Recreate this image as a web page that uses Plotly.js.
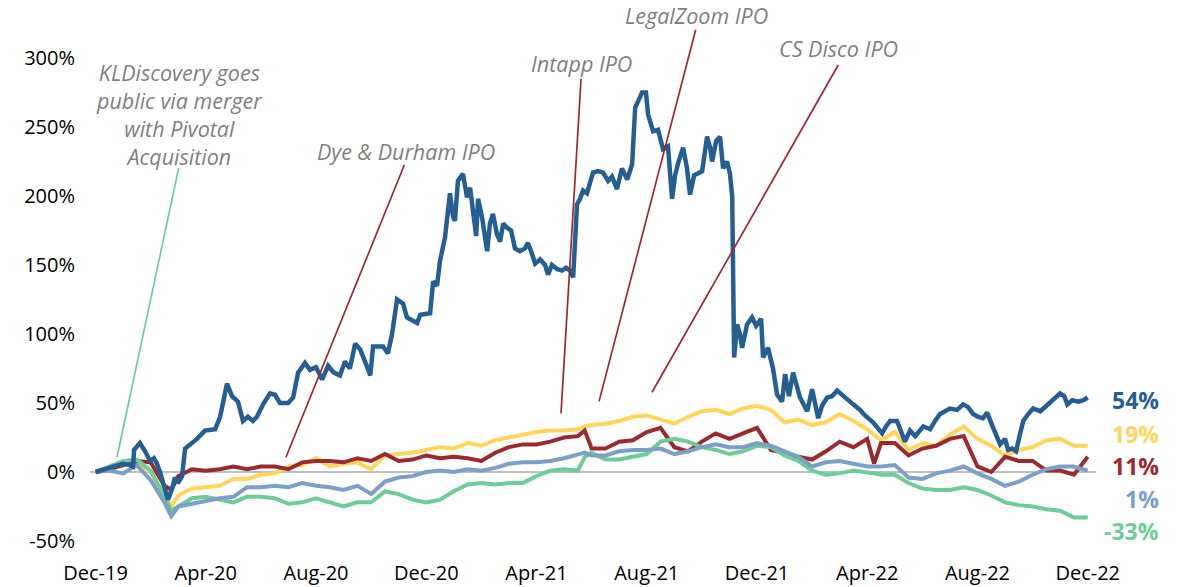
<!DOCTYPE html>
<html>
<head>
<meta charset="utf-8">
<script src="https://cdn.plot.ly/plotly-3.0.1.min.js"></script>
<style>html,body{margin:0;padding:0;background:#fff;}</style>
</head>
<body>
<div id="chart" style="width:1190px;height:587px;"></div>
<script>
// x positions in months after Dec-19 (0 = Dec-19, 36 = Dec-22)
const tickMonths = [0, 4, 8, 12, 16, 20, 24, 28, 32, 36];
const tickLabels = ["Dec-19", "Apr-20", "Aug-20", "Dec-20", "Apr-21", "Aug-21", "Dec-21", "Apr-22", "Aug-22", "Dec-22"];
const yTickValues = [-50, 0, 50, 100, 150, 200, 250, 300];
const yTickLabels = ["-50%", "0%", "50%", "100%", "150%", "200%", "250%", "300%"];

const months = [0,0.5,1,1.5,2,2.5,2.75,3,3.5,4,4.5,5,5.5,6,6.5,7,7.5,8,8.5,9,9.5,10,10.5,11,11.5,12,12.5,13,13.5,14,14.5,15,15.5,16,16.5,17,17.5,17.75,18,18.5,19,19.5,20,20.5,21,21.5,22,22.5,23,23.5,24,24.5,25,25.5,26,26.5,27,27.5,28,28.25,28.5,29,29.5,30,30.5,31,31.5,32,32.5,33,33.5,34,34.5,35,35.5,36];

const yellowSeries = [0,3,6,7,0,-16,-25,-17,-12,-11,-10,-5,-5,-2,-1,4,5,10,4,6,7,2,12,13,14,16,18,17,21,19,23,25,27,29,30,30,31,33,34,35,37,40,41,38,35,40,44,45,42,46,48,45,36,38,34,36,42,37,31,27,23,29,16,21,19,27,33,24,19,12,16,18,23,24,19,19];

const redSeries = [0,2,5,8,7,-10,-13,-3,2,1,2,4,2,4,4,2,7,8,8,7,10,8,13,8,9,12,10,11,10,8,14,18,20,20,22,25,26,30,17,17,22,23,29,32,18,15,22,28,24,28,32,16,14,11,9,15,22,18,24,6,21,21,12,17,19,24,26,4,0,11,8,8,1,1,-2,11];

const lightBlueSeries = [0,1,-1,5,-6,-22,-32,-25,-23,-21,-19,-18,-11,-11,-10,-11,-8,-10,-11,-13,-10,-16,-7,-4,-3,0,1,0,2,1,3,6,7,7,8,10,13,14,12,12,15,16,16,17,13,15,18,20,18,18,21,19,15,11,4,7,8,6,4,4,4,5,-4,-5,-1,1,4,-1,-5,-10,-7,-2,2,4,4,1];

const greenSeries = [0,4,8,9,1,-18,-28,-25,-19,-18,-20,-22,-18,-18,-19,-23,-22,-19,-22,-25,-22,-22,-14,-16,-20,-22,-20,-14,-9,-8,-9,-8,-8,-3,1,2,1,11,14,9,9,11,13,22,24,22,18,16,13,15,19,18,12,8,1,-2,-1,1,0,-1,-2,-2,-8,-12,-13,-13,-11,-13,-17,-22,-24,-25,-27,-28,-33,-33];

const blueMonths = [0,0.53,1.00,1.25,1.36,1.40,1.61,1.80,1.98,2.12,2.23,2.34,2.52,2.63,2.78,2.88,2.99,3.14,3.25,3.43,3.68,3.97,4.34,4.52,4.70,4.77,4.95,5.17,5.35,5.53,5.71,5.86,6.08,6.33,6.51,6.69,6.99,7.17,7.35,7.60,7.78,8.00,8.22,8.44,8.65,8.87,9.05,9.23,9.42,9.60,9.78,9.97,10.07,10.43,10.61,10.76,10.94,11.16,11.30,11.48,11.67,11.78,12.14,12.25,12.39,12.50,12.68,12.86,12.97,13.04,13.15,13.33,13.48,13.59,13.70,13.81,13.88,14.02,14.21,14.31,14.42,14.57,14.68,14.79,14.93,15.08,15.22,15.40,15.58,15.69,15.84,15.95,16.13,16.31,16.42,16.56,16.75,16.93,17.07,17.22,17.33,17.40,17.47,17.58,17.69,17.83,17.94,18.05,18.23,18.41,18.60,18.74,18.92,19.10,19.29,19.47,19.58,19.68,19.83,19.97,20.05,20.23,20.41,20.59,20.77,20.92,21.03,21.14,21.32,21.46,21.57,21.72,21.82,22.01,22.19,22.30,22.37,22.52,22.66,22.77,22.91,23.02,23.10,23.13,23.17,23.28,23.38,23.46,23.64,23.82,23.97,24.15,24.22,24.40,24.58,24.73,24.91,25.02,25.16,25.31,25.45,25.56,25.82,26.00,26.22,26.36,26.55,26.73,26.91,27.13,27.38,27.49,27.74,27.92,28.21,28.54,28.68,28.83,29.08,29.37,29.55,29.74,30.03,30.28,30.46,30.64,31.00,31.26,31.48,31.66,31.84,32.02,32.20,32.35,32.57,32.82,33.00,33.11,33.26,33.40,33.55,33.66,33.84,34.02,34.28,34.57,34.75,35.00,35.15,35.26,35.44,35.66,35.84,36.00];

const blueSeries = [0,3,6,5,4,16,21,15,8,10,6,0,-14,-20,-12,-4,-8,-3,17,20,24,30,31,40,56,64,55,51,37,40,37,40,49,57,56,50,50,54,72,79,74,76,67,77,72,70,80,75,93,89,80,70,91,91,86,100,125,122,112,110,108,114,115,138,135,153,170,202,185,182,211,216,199,206,190,171,198,185,160,180,187,172,167,180,177,175,162,160,162,166,158,151,154,150,143,150,147,146,148,146,141,165,194,198,204,202,210,217,218,217,211,214,205,220,212,223,264,268,275,275,259,247,248,234,236,198,215,224,235,220,201,215,216,218,243,235,225,240,243,220,225,216,200,162,83,107,100,90,107,112,106,111,83,90,75,56,51,71,55,72,62,54,44,60,39,48,54,55,59,55,50,49,45,41,36,28,33,37,37,22,30,26,33,31,37,42,46,45,49,47,42,40,39,43,32,20,24,16,17,15,28,37,42,46,44,49,52,57,55,49,52,51,52,54];

const events = [
  {label: "KLDiscovery goes<br>public via merger<br>with Pivotal<br>Acquisition", headM: 0.78, headV: 10.7, tailM: 3.03, tailV: 221.5, color: "#6FCB98", tx: 0.0885, ty: 0.8824},
  {label: "Dye & Durham IPO", headM: 6.91, headV: 10.7, tailM: 11.23, tailV: 223.7, color: "#9A2A2F", tx: 0.3141, ty: 0.8068},
  {label: "Intapp IPO", headM: 16.89, headV: 42.5, tailM: 17.62, tailV: 286, color: "#9A2A2F", tx: 0.4881, ty: 0.989},
  {label: "LegalZoom IPO", headM: 18.27, headV: 51.2, tailM: 21.79, tailV: 321.5, color: "#9A2A2F", tx: 0.6024, ty: 1.0884},
  {label: "CS Disco IPO", headM: 20.19, headV: 57.8, tailM: 26.98, tailV: 296, color: "#9A2A2F", tx: 0.7445, ty: 1.019}
];

const COLORS = {
  blue: "#245E92",
  yellow: "#FFD65C",
  red: "#9A2A2F",
  lightBlue: "#7C9FC8",
  green: "#6ECC98"
};

function line(x, y, color, width) {
  return {x: x, y: y, type: "scatter", mode: "lines", line: {color: color, width: width}, hoverinfo: "skip", showlegend: false};
}

const traces = [
  line(months, yellowSeries, COLORS.yellow, 4),
  line(months, redSeries, COLORS.red, 4),
  line(months, greenSeries, COLORS.green, 4),
  line(months, lightBlueSeries, COLORS.lightBlue, 4),
  line(blueMonths, blueSeries, COLORS.blue, 4.5)
];

const annotations = [];
events.forEach(e => {
  annotations.push({
    x: e.headM, y: e.headV, xref: "x", yref: "y",
    ax: e.tailM, ay: e.tailV, axref: "x", ayref: "y",
    text: "", showarrow: true, arrowhead: 0, arrowwidth: 1.7, arrowcolor: e.color,
    standoff: 0, startstandoff: 0
  });
  annotations.push({
    x: e.tx, y: e.ty, xref: "paper", yref: "paper", xanchor: "center", yanchor: "middle",
    text: "<i>" + e.label + "</i>", showarrow: false,
    font: {family: "Open Sans", size: 21.5, color: "#7F7F7F"}
  });
});

const endLabels = [
  {series: blueSeries, color: COLORS.blue, y: 52},
  {series: yellowSeries, color: COLORS.yellow, y: 27.7},
  {series: redSeries, color: COLORS.red, y: 4.3},
  {series: lightBlueSeries, color: COLORS.lightBlue, y: -19.5},
  {series: greenSeries, color: COLORS.green, y: -42.7}
];
endLabels.forEach(l => {
  const v = l.series[l.series.length - 1];
  annotations.push({
    x: 1.0643, y: l.y, xref: "paper", yref: "y", xanchor: "right", yanchor: "middle",
    text: "<b>" + Math.round(v) + "%</b>", showarrow: false,
    font: {family: "Open Sans", size: 23, color: l.color}
  });
});

const tickFont = {family: "Open Sans", size: 20, color: "#000000"};

const layout = {
  width: 1190, height: 587,
  margin: {l: 90, r: 94, t: 58, b: 46, pad: 0},
  paper_bgcolor: "#ffffff", plot_bgcolor: "#ffffff",
  showlegend: false,
  xaxis: {
    range: [-0.2, 36.3], tickmode: "array", tickvals: tickMonths, ticktext: tickLabels,
    showgrid: false, zeroline: false, showline: false, ticks: "",
    tickfont: tickFont, ticklabelstandoff: 18, fixedrange: true
  },
  yaxis: {
    range: [-50, 300], tickmode: "array", tickvals: yTickValues, ticktext: yTickLabels,
    showgrid: false, zeroline: true, zerolinecolor: "#BFBFBF", zerolinewidth: 2,
    showline: false, ticks: "", tickfont: tickFont, ticklabelstandoff: 14, fixedrange: true
  },
  annotations: annotations
};

Plotly.newPlot("chart", traces, layout, {staticPlot: true, displayModeBar: false});
</script>
</body>
</html>
